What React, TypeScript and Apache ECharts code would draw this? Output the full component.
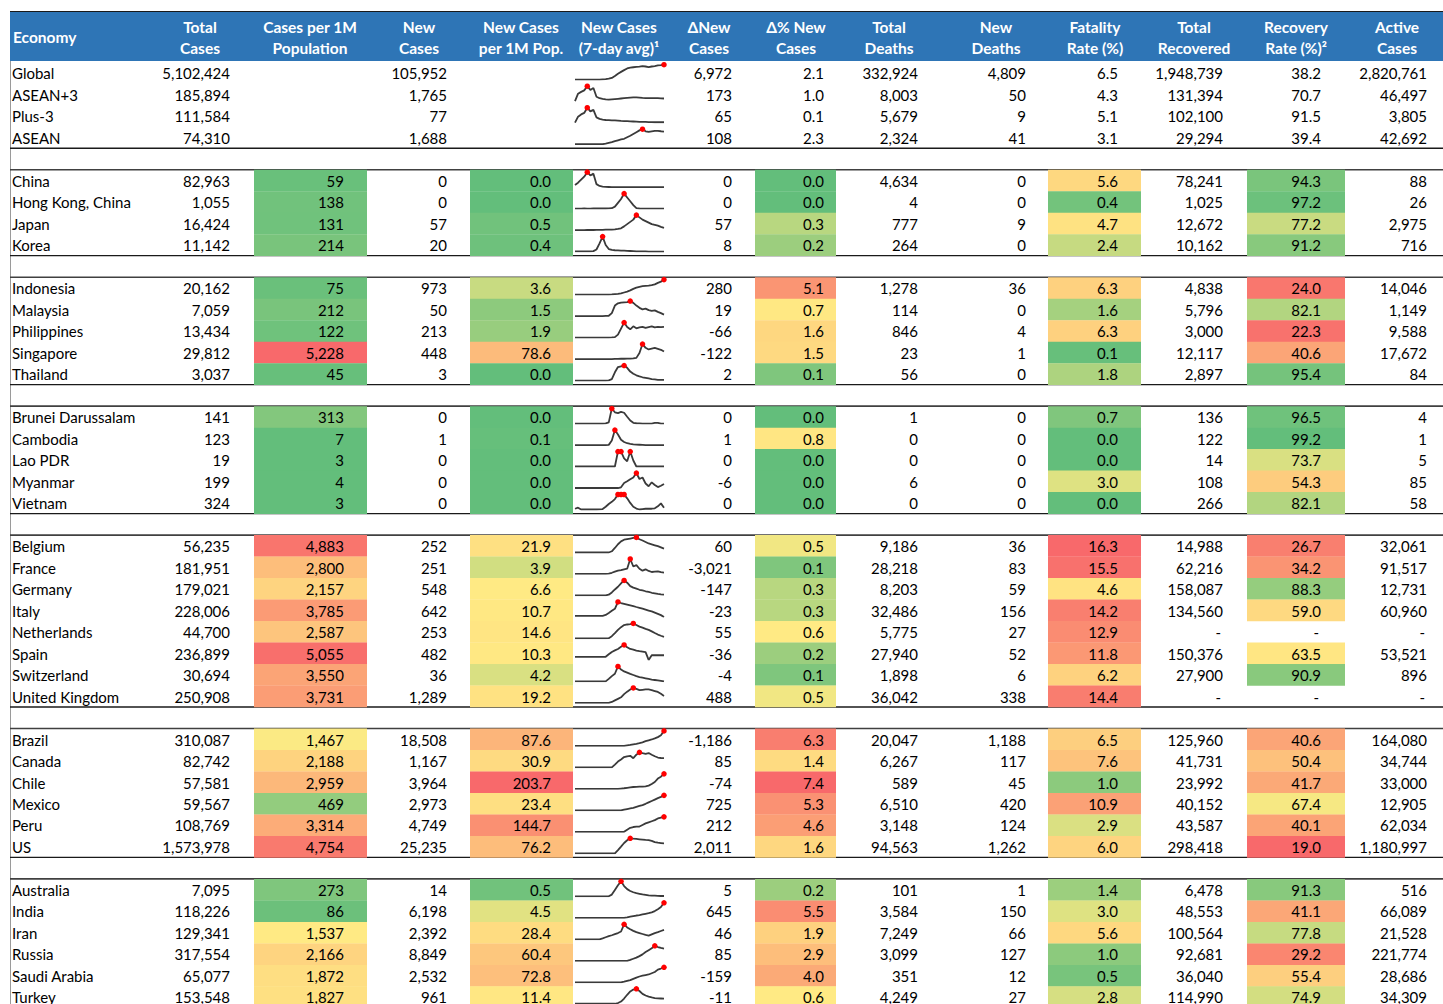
import React, { useEffect, useRef } from "react";
import * as echarts from "echarts";

// ---------------- data ----------------
const economies = [
  "Global", "ASEAN+3", "Plus-3", "ASEAN",
  "China", "Hong Kong, China", "Japan", "Korea",
  "Indonesia", "Malaysia", "Philippines", "Singapore", "Thailand",
  "Brunei Darussalam", "Cambodia", "Lao PDR", "Myanmar", "Vietnam",
  "Belgium", "France", "Germany", "Italy", "Netherlands", "Spain", "Switzerland", "United Kingdom",
  "Brazil", "Canada", "Chile", "Mexico", "Peru", "US",
  "Australia", "India", "Iran", "Russia", "Saudi Arabia", "Turkey",
];
const groupSizes = [4, 4, 5, 5, 8, 6, 6];

const totalCases = [5102424, 185894, 111584, 74310, 82963, 1055, 16424, 11142, 20162, 7059, 13434, 29812, 3037, 141, 123, 19, 199, 324, 56235, 181951, 179021, 228006, 44700, 236899, 30694, 250908, 310087, 82742, 57581, 59567, 108769, 1573978, 7095, 118226, 129341, 317554, 65077, 153548];
const casesPer1M = [null, null, null, null, 59, 138, 131, 214, 75, 212, 122, 5228, 45, 313, 7, 3, 4, 3, 4883, 2800, 2157, 3785, 2587, 5055, 3550, 3731, 1467, 2188, 2959, 469, 3314, 4754, 273, 86, 1537, 2166, 1872, 1827];
const newCases = [105952, 1765, 77, 1688, 0, 0, 57, 20, 973, 50, 213, 448, 3, 0, 1, 0, 0, 0, 252, 251, 548, 642, 253, 482, 36, 1289, 18508, 1167, 3964, 2973, 4749, 25235, 14, 6198, 2392, 8849, 2532, 961];
const newPer1M = [null, null, null, null, 0.0, 0.0, 0.5, 0.4, 3.6, 1.5, 1.9, 78.6, 0.0, 0.0, 0.1, 0.0, 0.0, 0.0, 21.9, 3.9, 6.6, 10.7, 14.6, 10.3, 4.2, 19.2, 87.6, 30.9, 203.7, 23.4, 144.7, 76.2, 0.5, 4.5, 28.4, 60.4, 72.8, 11.4];
const deltaNew = [6972, 173, 65, 108, 0, 0, 57, 8, 280, 19, -66, -122, 2, 0, 1, 0, -6, 0, 60, -3021, -147, -23, 55, -36, -4, 488, -1186, 85, -74, 725, 212, 2011, 5, 645, 46, 85, -159, -11];
const deltaPct = [2.1, 1.0, 0.1, 2.3, 0.0, 0.0, 0.3, 0.2, 5.1, 0.7, 1.6, 1.5, 0.1, 0.0, 0.8, 0.0, 0.0, 0.0, 0.5, 0.1, 0.3, 0.3, 0.6, 0.2, 0.1, 0.5, 6.3, 1.4, 7.4, 5.3, 4.6, 1.6, 0.2, 5.5, 1.9, 2.9, 4.0, 0.6];
const totalDeaths = [332924, 8003, 5679, 2324, 4634, 4, 777, 264, 1278, 114, 846, 23, 56, 1, 0, 0, 6, 0, 9186, 28218, 8203, 32486, 5775, 27940, 1898, 36042, 20047, 6267, 589, 6510, 3148, 94563, 101, 3584, 7249, 3099, 351, 4249];
const newDeaths = [4809, 50, 9, 41, 0, 0, 9, 0, 36, 0, 4, 1, 0, 0, 0, 0, 0, 0, 36, 83, 59, 156, 27, 52, 6, 338, 1188, 117, 45, 420, 124, 1262, 1, 150, 66, 127, 12, 27];
const fatalityRate = [6.5, 4.3, 5.1, 3.1, 5.6, 0.4, 4.7, 2.4, 6.3, 1.6, 6.3, 0.1, 1.8, 0.7, 0.0, 0.0, 3.0, 0.0, 16.3, 15.5, 4.6, 14.2, 12.9, 11.8, 6.2, 14.4, 6.5, 7.6, 1.0, 10.9, 2.9, 6.0, 1.4, 3.0, 5.6, 1.0, 0.5, 2.8];
const totalRecovered = [1948739, 131394, 102100, 29294, 78241, 1025, 12672, 10162, 4838, 5796, 3000, 12117, 2897, 136, 122, 14, 108, 266, 14988, 62216, 158087, 134560, null, 150376, 27900, null, 125960, 41731, 23992, 40152, 43587, 298418, 6478, 48553, 100564, 92681, 36040, 114990];
const recoveryRate = [38.2, 70.7, 91.5, 39.4, 94.3, 97.2, 77.2, 91.2, 24.0, 82.1, 22.3, 40.6, 95.4, 96.5, 99.2, 73.7, 54.3, 82.1, 26.7, 34.2, 88.3, 59.0, null, 63.5, 90.9, null, 40.6, 50.4, 41.7, 67.4, 40.1, 19.0, 91.3, 41.1, 77.8, 29.2, 55.4, 74.9];
const activeCases = [2820761, 46497, 3805, 42692, 88, 26, 2975, 716, 14046, 1149, 9588, 17672, 84, 4, 1, 5, 85, 58, 32061, 91517, 12731, 60960, null, 53521, 896, null, 164080, 34744, 33000, 12905, 62034, 1180997, 516, 66089, 21528, 221774, 28686, 34309];

// New cases, 7-day average (relative trend per economy)
const spark7dAvg: number[][] = [
  [0, 0, 0, 0, 0, 0, 0, 0, 0, 2, 4, 7, 12, 25, 40, 52, 64, 75, 80, 83, 85, 87, 90, 88, 84, 88, 91, 95, 97, 100],
  [0, 50, 62, 72, 100, 75, 88, 30, 20, 15, 12, 10, 12, 14, 16, 18, 20, 22, 24, 25, 25, 24, 22, 21, 21, 21, 20, 20, 19, 18],
  [0, 40, 55, 65, 100, 75, 85, 35, 25, 20, 18, 17, 16, 15, 14, 12, 11, 10, 9, 8, 7, 6, 5, 5, 4, 4, 3, 3, 3, 3],
  [0, 0, 0, 0, 0, 0, 0, 0, 0, 0, 3, 8, 13, 20, 26, 32, 36, 46, 56, 68, 80, 92, 100, 86, 82, 86, 89, 88, 86, 83],
  [15, 30, 50, 70, 100, 78, 90, 20, 8, 4, 2, 1, 0, 0, 0, 0, 0, 0, 0, 0, 0, 0, 0, 0, 0, 0, 0, 0, 0, 0],
  [2, 2, 2, 3, 2, 2, 3, 4, 3, 4, 3, 4, 5, 15, 40, 65, 100, 75, 50, 25, 5, 3, 2, 2, 2, 2, 2, 2, 2, 2],
  [0, 0, 0, 0, 1, 1, 1, 2, 2, 2, 3, 3, 4, 5, 8, 12, 25, 40, 55, 70, 100, 85, 70, 60, 50, 40, 35, 30, 22, 15],
  [2, 2, 2, 2, 2, 2, 4, 15, 55, 100, 45, 18, 12, 10, 9, 8, 7, 6, 5, 4, 3, 2, 2, 2, 1, 1, 1, 1, 1, 1],
  [0, 0, 0, 0, 0, 0, 0, 0, 0, 0, 0, 0, 1, 3, 5, 8, 14, 20, 28, 38, 46, 52, 56, 58, 60, 63, 68, 78, 86, 100],
  [0, 0, 0, 0, 0, 0, 0, 0, 0, 0, 1, 2, 20, 70, 85, 90, 92, 93, 100, 88, 70, 55, 45, 50, 40, 35, 38, 28, 20, 10],
  [0, 0, 0, 0, 0, 0, 0, 0, 0, 0, 0, 0, 1, 3, 20, 60, 100, 70, 55, 75, 62, 68, 72, 65, 70, 75, 68, 72, 70, 72],
  [0, 0, 0, 0, 0, 0, 0, 0, 0, 0, 0, 0, 0, 1, 1, 2, 2, 3, 3, 4, 8, 40, 100, 75, 64, 70, 74, 68, 62, 50],
  [0, 0, 0, 0, 0, 0, 0, 0, 0, 0, 0, 1, 10, 55, 90, 95, 100, 85, 60, 45, 35, 28, 22, 18, 14, 10, 8, 5, 4, 4],
  [0, 0, 0, 0, 0, 0, 0, 0, 0, 0, 1, 8, 100, 75, 70, 78, 72, 45, 20, 5, 2, 1, 0, 0, 0, 0, 4, 4, 0, 0],
  [0, 0, 0, 0, 0, 0, 0, 0, 0, 0, 0, 1, 30, 100, 70, 35, 20, 12, 8, 5, 3, 2, 1, 0, 0, 0, 0, 0, 0, 0],
  [0, 0, 0, 0, 0, 0, 0, 0, 0, 0, 0, 0, 0, 0, 100, 100, 55, 35, 100, 40, 0, 0, 0, 0, 0, 0, 0, 0, 0, 0],
  [0, 0, 0, 0, 0, 0, 0, 0, 0, 0, 0, 0, 0, 0, 0, 5, 33, 45, 58, 70, 100, 60, 70, 30, 12, 38, 20, 6, 15, 27],
  [7, 14, 2, 2, 2, 2, 2, 2, 3, 5, 20, 38, 52, 70, 100, 100, 100, 75, 45, 20, 8, 2, 5, 7, 7, 7, 10, 23, 42, 14],
  [0, 0, 0, 0, 0, 0, 0, 0, 0, 0, 0, 0, 8, 30, 55, 74, 85, 89, 93, 97, 100, 88, 80, 70, 60, 54, 48, 42, 34, 26],
  [0, 0, 0, 0, 0, 0, 0, 0, 0, 0, 0, 2, 8, 15, 22, 26, 31, 35, 100, 50, 59, 35, 22, 31, 20, 13, 15, 17, 12, 9],
  [0, 0, 0, 0, 0, 0, 0, 0, 0, 0, 0, 5, 20, 40, 58, 80, 100, 85, 62, 52, 45, 38, 34, 28, 24, 18, 14, 10, 7, 5],
  [9, 9, 9, 9, 9, 9, 9, 9, 9, 9, 15, 28, 42, 55, 100, 93, 88, 83, 78, 73, 67, 62, 56, 50, 44, 38, 30, 22, 14, 2],
  [0, 0, 0, 0, 0, 0, 0, 0, 0, 0, 0, 2, 15, 35, 57, 75, 89, 93, 96, 100, 90, 79, 72, 64, 57, 47, 36, 26, 18, 11],
  [24, 24, 24, 24, 24, 24, 24, 24, 24, 24, 24, 40, 55, 65, 74, 88, 100, 85, 74, 70, 64, 60, 57, 54, 4, 34, 34, 34, 34, 34],
  [4, 4, 4, 4, 4, 4, 4, 4, 4, 4, 4, 20, 38, 53, 100, 80, 68, 60, 52, 45, 38, 32, 28, 24, 20, 16, 13, 10, 7, 4],
  [4, 4, 4, 4, 4, 4, 4, 4, 4, 4, 4, 4, 10, 20, 30, 40, 60, 76, 90, 100, 94, 86, 88, 90, 90, 86, 80, 74, 62, 49],
  [4, 4, 4, 4, 4, 4, 4, 4, 4, 4, 4, 4, 4, 4, 4, 4, 4, 7, 10, 14, 17, 21, 27, 34, 40, 45, 52, 60, 72, 100],
  [4, 4, 4, 4, 4, 4, 4, 4, 4, 4, 4, 4, 4, 22, 41, 55, 70, 75, 78, 63, 85, 100, 95, 91, 96, 85, 75, 67, 64, 63],
  [4, 4, 4, 4, 4, 4, 4, 4, 4, 4, 4, 4, 4, 4, 4, 6, 8, 11, 14, 16, 17, 18, 19, 20, 25, 35, 48, 70, 82, 100],
  [4, 4, 4, 4, 4, 4, 4, 4, 4, 4, 4, 4, 4, 4, 4, 4, 8, 12, 16, 20, 26, 32, 38, 46, 55, 64, 73, 82, 90, 100],
  [4, 4, 4, 4, 4, 4, 4, 4, 4, 4, 4, 4, 4, 4, 4, 4, 4, 18, 30, 35, 37, 38, 48, 58, 65, 72, 79, 90, 95, 100],
  [4, 4, 4, 4, 4, 4, 4, 4, 4, 4, 4, 4, 4, 4, 25, 47, 70, 88, 100, 98, 96, 94, 92, 90, 89, 84, 76, 72, 70, 68],
  [4, 4, 4, 4, 4, 4, 4, 4, 4, 4, 4, 4, 15, 45, 75, 100, 70, 50, 38, 30, 24, 20, 16, 13, 10, 9, 8, 7, 6, 6],
  [2, 2, 2, 2, 2, 2, 2, 2, 2, 2, 2, 2, 2, 2, 2, 2, 2, 5, 9, 13, 17, 20, 24, 28, 32, 38, 46, 58, 72, 100],
  [4, 4, 4, 4, 4, 4, 4, 4, 4, 10, 17, 24, 30, 37, 44, 54, 100, 80, 68, 58, 50, 44, 38, 32, 28, 36, 44, 50, 57, 64],
  [4, 4, 4, 4, 4, 4, 4, 4, 4, 4, 4, 4, 4, 4, 4, 4, 4, 4, 10, 17, 24, 34, 45, 60, 72, 84, 100, 92, 86, 82],
  [4, 4, 4, 4, 4, 4, 4, 4, 4, 4, 4, 4, 4, 4, 4, 4, 8, 13, 18, 26, 34, 41, 46, 50, 54, 62, 70, 85, 92, 100],
  [0, 0, 0, 0, 0, 0, 0, 0, 0, 0, 0, 0, 0, 0, 5, 15, 35, 60, 82, 95, 100, 85, 66, 55, 48, 42, 38, 36, 35, 34],
];

const headerLabels: string[][] = [
  ["Economy"],
  ["Total", "Cases"],
  ["Cases per 1M", "Population"],
  ["New", "Cases"],
  ["New Cases", "per 1M Pop."],
  ["New Cases", "(7-day avg)¹"],
  ["ΔNew", "Cases"],
  ["Δ% New", "Cases"],
  ["Total", "Deaths"],
  ["New", "Deaths"],
  ["Fatality", "Rate (%)"],
  ["Total", "Recovered"],
  ["Recovery", "Rate (%)²"],
  ["Active", "Cases"],
];

// ---------------- layout ----------------
const W = 1443;
const H = 1004;
const CHART_H = 1030; // taller than the viewport so the last row is not squeezed
const ROW_H = 21.49;
const BODY_TOP = 62.3;
const TABLE_LEFT = 10;
const FONT = "Lato, 'Noto Sans', sans-serif";
const HEADER_CENTERS = [13, 200, 310, 419, 521, 619, 709, 796, 889, 996, 1095, 1194, 1296, 1397];
const SPARK_LEFT = 575;
const SPARK_W = 89;

const GREEN = [99, 190, 123];
const YELLOW = [255, 235, 132];
const RED = [248, 105, 107];

function mix(a: number[], b: number[], t: number) {
  const c = a.map((v, i) => Math.round(v + (b[i] - v) * t));
  return `rgb(${c[0]},${c[1]},${c[2]})`;
}

function median(vals: number[]) {
  const s = [...vals].sort((a, b) => a - b);
  const p = (s.length - 1) * 0.5;
  const lo = Math.floor(p);
  const hi = Math.ceil(p);
  return s[lo] + (s[hi] - s[lo]) * (p - lo);
}

function makeScale(col: (number | null)[], nAgg: number, reverse: boolean) {
  const vals = col.slice(nAgg).filter((v) => v != null) as number[];
  const mn = Math.min(...vals);
  const mx = Math.max(...vals);
  const md = median(vals);
  const lowC = reverse ? RED : GREEN;
  const highC = reverse ? GREEN : RED;
  return (v: number) => {
    if (v <= md) {
      const t = md === mn ? 1 : (v - mn) / (md - mn);
      return mix(lowC, YELLOW, Math.max(0, Math.min(1, t)));
    }
    const t = mx === md ? 0 : (v - md) / (mx - md);
    return mix(YELLOW, highC, Math.max(0, Math.min(1, t)));
  };
}

const fmtInt = (v: number | null) => (v == null ? "-" : v.toLocaleString("en-US"));
const fmt1 = (v: number | null) => (v == null ? "-" : v.toFixed(1));

type CellMeta = {
  slot: number;
  x: number;
  align: "left" | "right";
  text: string;
  fill?: string;
  cellL?: number;
  cellR?: number;
};

function buildOption() {
  const nAgg = groupSizes[0];
  const slots: number[] = [];
  const blankSlots: number[] = [];
  let s = 0;
  groupSizes.forEach((n, g) => {
    for (let k = 0; k < n; k++) slots.push(s++);
    if (g < groupSizes.length - 1) blankSlots.push(s++);
  });
  const nSlots = s;

  const scPer1M = makeScale(casesPer1M, nAgg, false);
  const scNewPer1M = makeScale(newPer1M, nAgg, false);
  const scDeltaPct = makeScale(deltaPct, nAgg, false);
  const scFatal = makeScale(fatalityRate, nAgg, false);
  const scRecov = makeScale(recoveryRate, nAgg, true);

  const cells: CellMeta[] = [];
  economies.forEach((name, i) => {
    const slot = slots[i];
    const agg = i < nAgg;
    const heat = (v: number | null, sc: (v: number) => string) => (agg || v == null ? undefined : sc(v));
    cells.push({ slot, x: 12, align: "left", text: name });
    cells.push({ slot, x: 230, align: "right", text: fmtInt(totalCases[i]) });
    cells.push({ slot, x: 344, align: "right", text: casesPer1M[i] == null ? "" : fmtInt(casesPer1M[i]), fill: heat(casesPer1M[i], scPer1M), cellL: 254, cellR: 367 });
    cells.push({ slot, x: 447, align: "right", text: fmtInt(newCases[i]) });
    cells.push({ slot, x: 551, align: "right", text: newPer1M[i] == null ? "" : fmt1(newPer1M[i]), fill: heat(newPer1M[i], scNewPer1M), cellL: 470, cellR: 573 });
    cells.push({ slot, x: 732, align: "right", text: fmtInt(deltaNew[i]) });
    cells.push({ slot, x: 824, align: "right", text: fmt1(deltaPct[i]), fill: heat(deltaPct[i], scDeltaPct), cellL: 755, cellR: 836 });
    cells.push({ slot, x: 918, align: "right", text: fmtInt(totalDeaths[i]) });
    cells.push({ slot, x: 1026, align: "right", text: fmtInt(newDeaths[i]) });
    cells.push({ slot, x: 1118, align: "right", text: fmt1(fatalityRate[i]), fill: heat(fatalityRate[i], scFatal), cellL: 1048, cellR: 1141 });
    cells.push({ slot, x: totalRecovered[i] == null ? 1221 : 1223, align: "right", text: fmtInt(totalRecovered[i]) });
    cells.push({ slot, x: recoveryRate[i] == null ? 1319 : 1321, align: "right", text: fmt1(recoveryRate[i]), fill: heat(recoveryRate[i], scRecov), cellL: 1247, cellR: 1345 });
    cells.push({ slot, x: activeCases[i] == null ? 1425 : 1427, align: "right", text: fmtInt(activeCases[i]) });
  });

  const grids: any[] = [{ left: 0, top: BODY_TOP, width: W, height: nSlots * ROW_H }];
  const xAxes: any[] = [{ type: "value", min: 0, max: W, show: false, gridIndex: 0 }];
  const yAxes: any[] = [{ type: "value", min: 0, max: nSlots, inverse: true, show: false, gridIndex: 0 }];
  const series: any[] = [];

  // separators (blank rows)
  series.push({
    type: "custom",
    xAxisIndex: 0,
    yAxisIndex: 0,
    silent: true,
    z: 1,
    data: blankSlots.map((b) => [0, b]),
    renderItem: (params: any, api: any) => {
      const sl = api.value(1);
      const p0 = api.coord([TABLE_LEFT, sl]);
      const p1 = api.coord([W, sl + 1]);
      return {
        type: "group",
        children: [
          { type: "line", shape: { x1: p0[0], y1: p0[1], x2: p1[0], y2: p0[1] }, style: { stroke: "#1a1a1a", lineWidth: 1.3 } },
          { type: "line", shape: { x1: p0[0], y1: p1[1], x2: p1[0], y2: p1[1] }, style: { stroke: "#404040", lineWidth: 1.6 } },
        ],
      };
    },
  });

  // table cells
  series.push({
    type: "custom",
    xAxisIndex: 0,
    yAxisIndex: 0,
    silent: true,
    z: 2,
    data: cells.map((c) => [c.x, c.slot]),
    renderItem: (params: any, api: any) => {
      const m = cells[params.dataIndex];
      const pTop = api.coord([m.x, m.slot]);
      const pBot = api.coord([m.x, m.slot + 1]);
      const children: any[] = [];
      if (m.fill && m.cellL != null && m.cellR != null) {
        const l = api.coord([m.cellL, m.slot])[0];
        const r = api.coord([m.cellR, m.slot])[0];
        children.push({ type: "rect", shape: { x: l, y: pTop[1], width: r - l, height: pBot[1] - pTop[1] + 0.3 }, style: { fill: m.fill } });
      }
      if (m.text) {
        children.push({
          type: "text",
          style: {
            text: m.text,
            x: pTop[0],
            y: (pTop[1] + pBot[1]) / 2 + 0.3,
            align: m.align,
            verticalAlign: "middle",
            fill: "#000",
            fontSize: 15,
            fontFamily: FONT,
          },
        });
      }
      return { type: "group", children };
    },
  });

  // sparklines
  economies.forEach((_, i) => {
    const gi = i + 1;
    const data = spark7dAvg[i];
    const mx = Math.max(...data);
    grids.push({ left: SPARK_LEFT, width: SPARK_W, top: BODY_TOP + slots[i] * ROW_H + 2.4, height: 15 });
    xAxes.push({ type: "category", gridIndex: gi, show: false, boundaryGap: false, data: data.map((_, k) => k) });
    yAxes.push({ type: "value", gridIndex: gi, show: false, scale: true, min: (v: any) => v.min, max: (v: any) => v.max });
    series.push({
      type: "line",
      xAxisIndex: gi,
      yAxisIndex: gi,
      data,
      silent: true,
      z: 3,
      showSymbol: true,
      showAllSymbol: true,
      symbol: (val: any) => {
        const v = Array.isArray(val) ? val[1] : val;
        return v === mx ? "circle" : "none";
      },
      symbolSize: 5.5,
      itemStyle: { color: "#ff0000", borderWidth: 0 },
      lineStyle: { color: "#3a3a3a", width: 1.8 },
    });
  });

  // header
  const headerChildren: any[] = [
    { type: "rect", shape: { x: TABLE_LEFT, y: 11.5, width: W - TABLE_LEFT, height: 49.5 }, style: { fill: "#2E75B6" } },
    { type: "line", shape: { x1: TABLE_LEFT, y1: 11.5, x2: W, y2: 11.5 }, style: { stroke: "#1a1a1a", lineWidth: 1.2 } },
    { type: "line", shape: { x1: TABLE_LEFT + 0.5, y1: 61, x2: TABLE_LEFT + 0.5, y2: CHART_H }, style: { stroke: "#9a9a9a", lineWidth: 1 } },
  ];
  headerLabels.forEach((lines, c) => {
    if (lines.length === 1) {
      headerChildren.push({
        type: "text",
        style: { text: lines[0], x: HEADER_CENTERS[c], y: 37, align: "left", verticalAlign: "middle", fill: "#fff", fontSize: 15.5, fontWeight: "bold", fontFamily: FONT },
      });
    } else {
      lines.forEach((t, k) => {
        headerChildren.push({
          type: "text",
          style: { text: t, x: HEADER_CENTERS[c], y: k === 0 ? 27 : 48, align: "center", verticalAlign: "middle", fill: "#fff", fontSize: 15.5, fontWeight: "bold", fontFamily: FONT },
        });
      });
    }
  });

  return {
    animation: false,
    backgroundColor: "#ffffff",
    grid: grids,
    xAxis: xAxes,
    yAxis: yAxes,
    series,
    graphic: [{ type: "group", children: headerChildren, z: 10 }],
  };
}

export default function App() {
  const ref = useRef<HTMLDivElement>(null);
  useEffect(() => {
    document.body.style.margin = "0";
    document.body.style.overflow = "hidden";
    document.documentElement.style.overflow = "hidden";
    if (!ref.current) return;
    const chart = echarts.init(ref.current, undefined, { renderer: "svg" });
    chart.setOption(buildOption() as any);
    return () => chart.dispose();
  }, []);
  return <div ref={ref} style={{ width: W, height: CHART_H }} />;
}
